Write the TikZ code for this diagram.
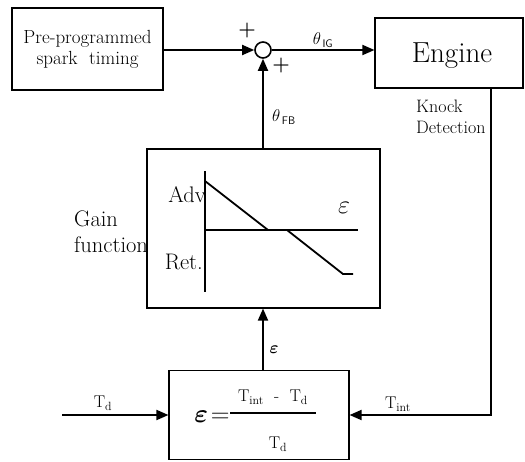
\documentclass[tikz,border=0pt]{standalone}
\usepackage{fix-cm}
\usepackage{amsmath,amssymb}
\usepackage{fontspec}
\usetikzlibrary{arrows.meta}
\begin{document}
\begin{tikzpicture}[x=1pt,y=-1pt,
  blk/.style={draw,line width=1.1pt,inner sep=0pt},
  conn/.style={line width=1.8pt},
  arr/.style={conn,-{Triangle[length=12pt,width=10pt]}},
  txt/.style={inner sep=0pt,font=\fontsize{18}{21}\selectfont},
  big/.style={inner sep=0pt,font=\fontsize{22.5}{26}\selectfont},
  lbl/.style={inner sep=0pt,font=\fontsize{17}{20}\selectfont}]
\useasboundingbox (0,0) rectangle (525,461);
% blocks
\node[blk,minimum width=151pt,minimum height=82pt,align=center,
      font=\fontsize{19}{21}\selectfont] (pre) at (87.5,49) {Pre-programmed\\spark\ \ timing};
\node[draw,circle,line width=1.6pt,minimum size=16pt,inner sep=0pt] (sum) at (263,50) {};
\node[blk,minimum width=148pt,minimum height=70pt] (engine) at (449,53) {};
\node[inner sep=0pt,font=\fontsize{29}{32}\selectfont] (engtxt) at (452,56) {Engine};
\node[blk,minimum width=233pt,minimum height=159pt] (gain) at (263.5,228.5) {};
\node[blk,minimum width=180pt,minimum height=89pt] (eps) at (259,415) {};
% free ends
\coordinate (kd) at (491,0);
\coordinate (tdin) at (62,415);
% connectors
\draw[arr] (pre.east |- sum.west) -- (sum.west);
\draw[arr] (sum.east) -- (engine.west |- sum.east);
\draw[arr] (gain.north -| sum) -- (sum.south);
\draw[arr] (eps.north -| sum) -- (gain.south -| sum);
\draw[arr] (engine.south -| kd) |- (eps.east);
\draw[arr] (tdin) -- (eps.west);
% labels
\node[txt,font=\fontsize{20}{22}\selectfont\bfseries] (p1) at (247,31) {+};
\node[txt,font=\fontsize{20}{22}\selectfont\bfseries] (p2) at (281,66) {+};
\node[lbl] (thig) at (323,40) {$\theta_{\,\text{\fontsize{11}{13}\selectfont\sffamily IG}}$};
\node[lbl] (thfb) at (284,117) {$\theta_{\,\text{\fontsize{11}{13}\selectfont\sffamily FB}}$};
\node[txt,align=left,anchor=west] (knock) at (416,117) {Knock\\Detection};
\node[big,align=left,anchor=west] (gf) at (74,232) {Gain\\function};
\node[big,anchor=east] (adv) at (206,195) {Adv};
\node[big,anchor=east] (ret) at (203,262) {Ret.};
\node[big,font=\fontsize{26}{28}\selectfont] (epsg) at (344,208) {$\varepsilon$};
\node[lbl] (epsa) at (274,350) {$\boldsymbol{\varepsilon}$};
% gain curve
\draw[conn] (205,171) -- (205,292);
\draw[conn] (205,230) -- (358,230);
\draw[conn] (205,181) -- (268,230) -- (287,230) -- (343,274) -- (353,274);
% formula
\node[inner sep=0pt,font=\fontsize{26}{28}\selectfont] (epseq) at (212,417) {$\boldsymbol{\varepsilon}\!=$};
\draw[conn] (230,413) -- (316,413);
\node[lbl] (num) at (273,397) {T$_{\text{int}}$\ \ -\ \ T$_{\text{d}}$};
\node[lbl] (den) at (278,444) {T$_{\text{d}}$};
\node[lbl] (tdl) at (103,403) {T$_{\text{d}}$};
\node[lbl] (tint) at (398,404) {T$_{\text{int}}$};
\end{tikzpicture}
\end{document}
